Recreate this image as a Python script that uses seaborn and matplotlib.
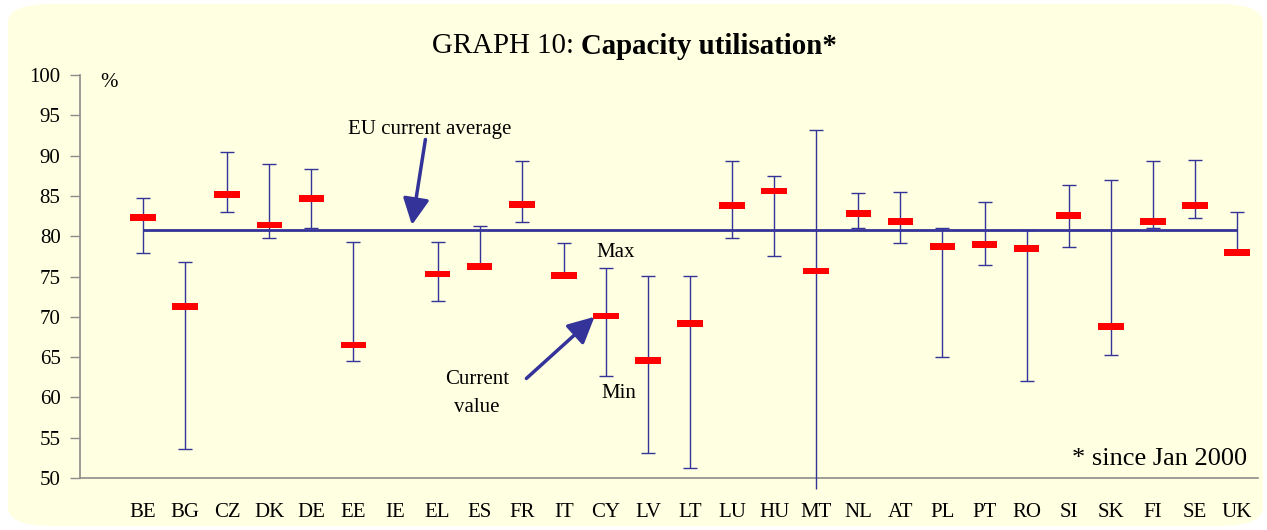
import seaborn as sns
import matplotlib.pyplot as plt
import pandas as pd
from matplotlib.patches import FancyBboxPatch
from matplotlib.path import Path

# data (capacity utilisation, %)
countries = ["BE", "BG", "CZ", "DK", "DE", "EE", "IE", "EL", "ES", "FR", "IT", "CY", "LV", "LT",
             "LU", "HU", "MT", "NL", "AT", "PL", "PT", "RO", "SI", "SK", "FI", "SE", "UK"]
current = [82.3, 71.3, 85.2, 81.4, 84.7, 66.5, None, 75.3, 76.2, 83.9, 75.1, 70.1, 64.6, 69.2,
           83.8, 85.6, 75.7, 82.8, 81.8, 78.7, 79.0, 78.5, 82.6, 68.8, 81.8, 83.8, 78.0]
max_val = [84.8, 76.8, 90.5, 89.0, 88.3, 79.3, None, 79.3, 81.3, 89.3, 79.1, 76.1, 75.1, 75.1,
           89.3, 87.5, 93.2, 85.3, 85.5, 81.0, 84.3, 80.8, 86.3, 87.0, 89.3, 89.5, 83.0]
min_val = [77.9, 53.6, 83.0, 79.8, 81.0, 64.5, None, 71.9, 76.2, 81.8, 75.1, 62.7, 53.1, 51.3,
           79.8, 77.6, 48.6, 81.0, 79.1, 65.0, 76.4, 62.0, 78.6, 65.2, 81.0, 82.3, 78.0]
eu_average = 80.8

df = pd.DataFrame({"country": countries, "current": current, "max": max_val, "min": min_val})
df["pos"] = range(len(df))
rng = df.dropna()

blue = "#333399"
red = "#FF0000"
grey = "#8C8C8C"

sns.set_theme(style="white")
plt.rcParams["font.family"] = ["Liberation Serif", "DejaVu Serif"]
plt.rcParams["text.color"] = "black"
plt.rcParams["xtick.color"] = "black"
plt.rcParams["ytick.color"] = "black"

fig = plt.figure(figsize=(12.67, 5.30), dpi=100)
fig.patch.set_facecolor("white")
bg = FancyBboxPatch((8 / 1267, 4 / 530), 1255 / 1267, 522 / 530,
                    boxstyle="round,pad=0,rounding_size=0.035", transform=fig.transFigure,
                    facecolor="#FFFFE1", edgecolor="none", zorder=-10)
fig.patches.append(bg)

ax = fig.add_axes([80 / 1267, 1 - 478 / 530, 1178 / 1267, 403 / 530])
ax.set_facecolor("none")

# EU average line
ax.hlines(eu_average, df["pos"].min(), df["pos"].max(), color=blue, lw=2, zorder=2)

# min-max ranges
ax.vlines(rng["pos"], rng["min"], rng["max"], color=blue, lw=1, zorder=3, clip_on=False)
sns.scatterplot(data=rng, x="pos", y="max", marker="_", s=95, color=blue, linewidth=1,
                ax=ax, zorder=3, legend=False)
sns.scatterplot(data=rng, x="pos", y="min", marker="_", s=95, color=blue, linewidth=1,
                ax=ax, zorder=3, legend=False)

# current values as red bars
bar = Path([(-1, -0.26), (1, -0.26), (1, 0.26), (-1, 0.26), (-1, -0.26)])
sns.scatterplot(data=rng, x="pos", y="current", marker=bar, s=340, color=red,
                edgecolor="none", linewidth=0, ax=ax, zorder=4, legend=False)

ax.set_xlim(-1.5, len(countries) - 0.5)
ax.set_ylim(50, 100)
ax.set_yticks(range(50, 101, 5))
ax.set_xticks(df["pos"])
ax.set_xticklabels(countries)
ax.set_xticks([p - 0.5 for p in range(-1, len(countries) + 1)], minor=True)
ax.tick_params(axis="x", which="major", length=0, pad=18, labelsize=15, labelcolor="black")
ax.tick_params(axis="x", which="minor", length=5, width=1, color=grey, direction="out")
ax.tick_params(axis="y", length=7, width=1, color=grey, direction="out", pad=7,
               labelsize=15, left=True, labelcolor="black")
ax.set_xlabel("")
ax.set_ylabel("")
for s in ["top", "right"]:
    ax.spines[s].set_visible(False)
for s in ["left", "bottom"]:
    ax.spines[s].set_color(grey)
    ax.spines[s].set_linewidth(1.2)

# texts and arrows
ax.text(0.017, 99.1, "%", transform=ax.get_yaxis_transform(), fontsize=15, ha="left", va="center")
ax.text(6.80, 93.2, "EU current average", fontsize=15, ha="center", va="center")
ax.annotate("", xy=(6.39, 81.4), xytext=(6.71, 92.0),
            arrowprops=dict(arrowstyle="-|>,head_length=0.8,head_width=0.4", color=blue, lw=2.5,
                            mutation_scale=20, shrinkA=0, shrinkB=0))
ax.text(7.94, 60.45, "Current\nvalue", fontsize=15, ha="center", va="center", linespacing=1.65)
ax.annotate("", xy=(10.73, 70.0), xytext=(9.11, 62.35),
            arrowprops=dict(arrowstyle="-|>,head_length=0.8,head_width=0.4", color=blue, lw=2.5,
                            mutation_scale=20, shrinkA=0, shrinkB=0))
ax.text(11.23, 77.95, "Max", fontsize=15, ha="center", va="center")
ax.text(11.30, 60.5, "Min", fontsize=15, ha="center", va="center")
ax.text(26.23, 52.4, "* since Jan 2000", fontsize=19, ha="right", va="center")

# title: normal + bold part
fig.text(574 / 1267, 1 - 46 / 530, "GRAPH 10:", fontsize=20.8, ha="right", va="center")
fig.text(581 / 1267, 1 - 46 / 530, "Capacity utilisation*", fontsize=20.8, fontweight="bold",
         ha="left", va="center")

fig.savefig("out.png", dpi=100)
